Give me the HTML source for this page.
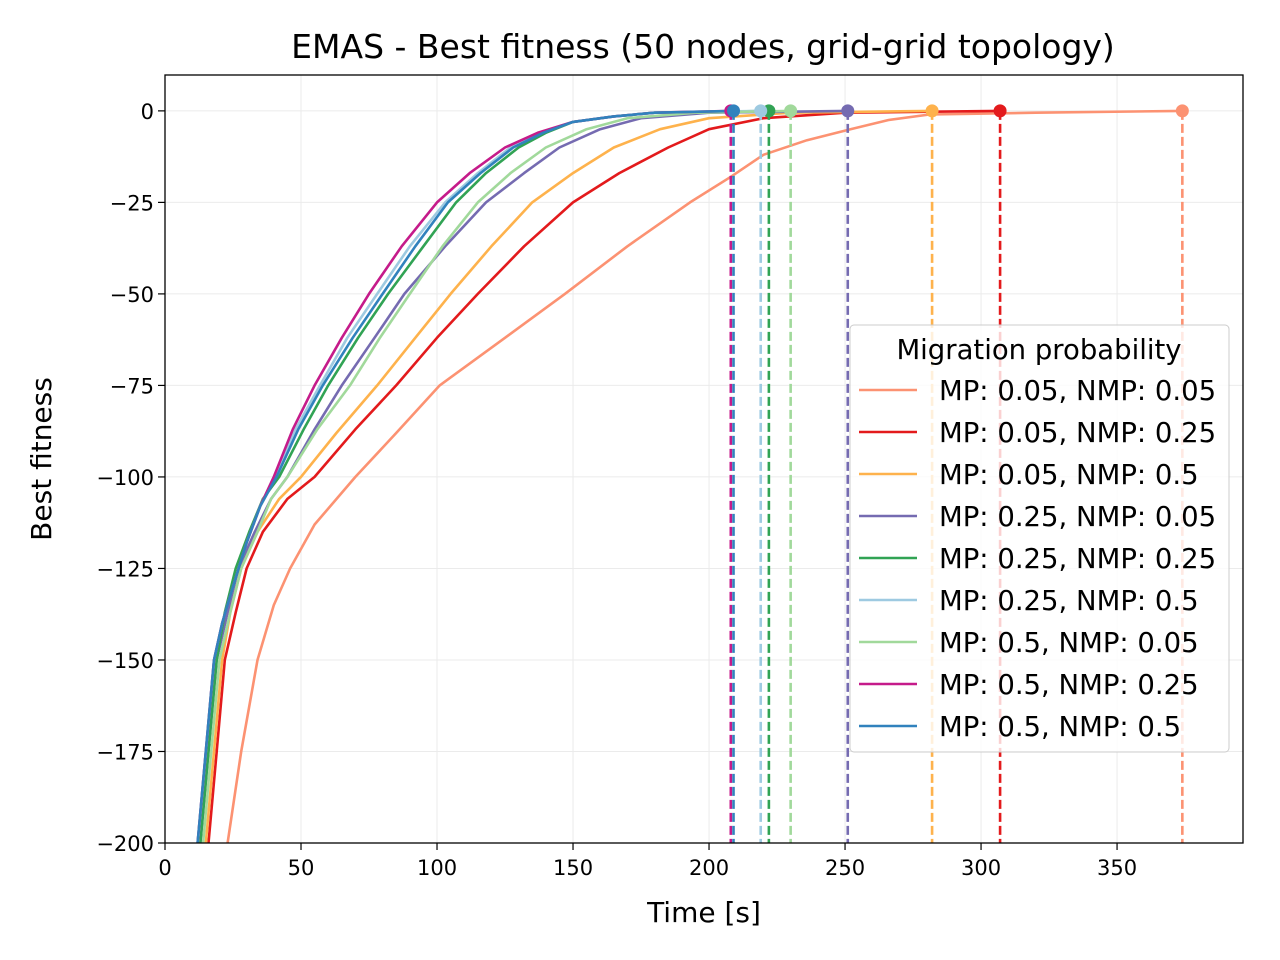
<!DOCTYPE html>
<html><head><meta charset="utf-8">
<style>
html,body{margin:0;padding:0;background:#fff;}
svg{display:block;font-family:"DejaVu Sans","Liberation Sans",sans-serif;}
</style></head>
<body>
<svg id="chart" width="1280" height="960" viewBox="0 0 1280 960">
<defs><clipPath id="clip"><rect x="165" y="75" width="1078" height="768"/></clipPath></defs>
<text x="703" y="58" text-anchor="middle" font-size="33" fill="#000">EMAS - Best fitness (50 nodes, grid-grid topology)</text>
<g id="grid"></g>
<g id="series" clip-path="url(#clip)"></g>
<rect x="165" y="75" width="1078" height="768" fill="none" stroke="#000" stroke-width="1.3"/>
<g id="axes"></g>
<text x="704" y="922" text-anchor="middle" font-size="28">Time [s]</text>
<text transform="translate(51,459) rotate(-90)" text-anchor="middle" font-size="28">Best fitness</text>
<g id="legend"></g>
</svg>
<script>
const seriesNames = ["MP: 0.05, NMP: 0.05","MP: 0.05, NMP: 0.25","MP: 0.05, NMP: 0.5","MP: 0.25, NMP: 0.05","MP: 0.25, NMP: 0.25","MP: 0.25, NMP: 0.5","MP: 0.5, NMP: 0.05","MP: 0.5, NMP: 0.25","MP: 0.5, NMP: 0.5"];
const seriesColors = ["#fc9272","#e31a1c","#feb24c","#756bb1","#31a354","#9ecae1","#a1d99b","#c51b8a","#3182bd"];
const endTimes = [374,307,282,251,222,219,230,208,209];
const s1t=[23,28,34,40,46,55,70,85,101,125,147,170,193,208,220,236,252,266,281,320,374], s1v=[-200,-175,-150,-135,-125,-113,-100,-88,-75,-62,-50,-37,-25,-18,-12,-8,-5,-2.5,-1,-0.5,0];
const s2t=[16,19,22,26,30,36,45,55,70,85,100,115,132,150,167,185,200,220,250,307], s2v=[-200,-175,-150,-137,-125,-115,-106,-100,-87,-75,-62,-50,-37,-25,-17,-10,-5,-2,-0.5,0];
const s3t=[15,18,21,24,28,34,42,50,63,78,92,105,120,135,150,165,182,200,230,282], s3v=[-200,-175,-150,-137,-125,-115,-106,-100,-88,-75,-62,-50,-37,-25,-17,-10,-5,-2,-0.5,0];
const s4t=[13,16,19,23,27,33,39,45,55,65,77,88,103,118,132,145,160,175,200,251], s4v=[-200,-175,-150,-137,-125,-115,-106,-100,-87,-75,-62,-50,-37,-25,-17,-10,-5,-2,-0.5,0];
const s5t=[13,16,19,22,26,31,36,42,51,60,71,82,95,107,118,130,140,150,165,180,222], s5v=[-200,-175,-150,-137,-125,-115,-106,-100,-87,-75,-62,-50,-37,-25,-17,-10,-6,-3,-1.5,-0.5,0];
const s6t=[12,15,18,21,25,30,35,40,48,57,67,78,90,103,115,127,138,150,165,180,219], s6v=[-200,-175,-150,-140,-130,-118,-108,-100,-87,-75,-62,-50,-37,-25,-17,-10,-6,-3,-1.5,-0.5,0];
const s7t=[14,17,20,24,28,34,39,45,56,68,79,90,102,115,127,140,155,170,195,230], s7v=[-200,-175,-150,-137,-125,-115,-106,-100,-87,-75,-62,-50,-37,-25,-17,-10,-5,-2,-0.5,0];
const s8t=[12,15,18,21,25,30,35,40,47,55,65,75,87,100,112,125,137,150,165,180,208], s8v=[-200,-175,-150,-140,-130,-118,-108,-100,-87,-75,-62,-50,-37,-25,-17,-10,-6,-3,-1.5,-0.5,0];
const s9t=[12,15,18,21,25,30,35,41,49,58,69,80,92,104,116,128,139,150,165,180,209], s9v=[-200,-175,-150,-140,-130,-118,-108,-100,-87,-75,-62,-50,-37,-25,-17,-10,-6,-3,-1.5,-0.5,0];
const seriesT=[s1t,s2t,s3t,s4t,s5t,s6t,s7t,s8t,s9t];
const seriesV=[s1v,s2v,s3v,s4v,s5v,s6v,s7v,s8v,s9v];
const xTicks=[0,50,100,150,200,250,300,350];
const yTicks=[0,-25,-50,-75,-100,-125,-150,-175,-200];
const yTickLabels=["0","\u221225","\u221250","\u221275","\u2212100","\u2212125","\u2212150","\u2212175","\u2212200"];

const NS="http://www.w3.org/2000/svg";
const X0=165,X1=1243,Y0=75,Y1=843,xMin=0,xMax=396.3,yMin=-200,yMax=9.8;
function sx(v){return X0+(v-xMin)/(xMax-xMin)*(X1-X0);}
function sy(v){return Y1-(v-yMin)/(yMax-yMin)*(Y1-Y0);}
function mk(tag,attrs,parent){const e=document.createElementNS(NS,tag);for(const k in attrs)e.setAttribute(k,attrs[k]);parent.appendChild(e);return e;}
const grid=document.getElementById('grid'),axes=document.getElementById('axes'),ser=document.getElementById('series'),leg=document.getElementById('legend');
xTicks.forEach(t=>{
  const g=mk('line',{x1:sx(t),x2:sx(t),y1:Y0,y2:Y1,stroke:'#ebebeb','stroke-width':1},grid);
  
  
  const tk=mk('line',{x1:sx(t),x2:sx(t),y1:Y1,y2:Y1+7,stroke:'#000','stroke-width':1.2},axes);
  
  
  const tx=mk('text',{x:sx(t),y:Y1+32,'text-anchor':'middle','font-size':21},axes);tx.textContent=t;
  
  
});
yTicks.forEach((t,i)=>{
  const g=mk('line',{x1:X0,x2:X1,y1:sy(t),y2:sy(t),stroke:'#ebebeb','stroke-width':1},grid);
  
  
  const tk=mk('line',{x1:X0-7,x2:X0,y1:sy(t),y2:sy(t),stroke:'#000','stroke-width':1.2},axes);
  
  
  const tx=mk('text',{x:X0-11,y:sy(t)+8,'text-anchor':'end','font-size':21},axes);tx.textContent=yTickLabels[i];
  
  
});
seriesT.forEach((ts,i)=>{
  const vs=seriesV[i];
  const d=ts.map((t,j)=>(j?'L':'M')+sx(t).toFixed(1)+','+sy(vs[j]).toFixed(1)).join(' ');
  const p=mk('path',{d:d,fill:'none',stroke:seriesColors[i],'stroke-width':2.6,'stroke-linejoin':'round'},ser);
  
  
});
seriesT.forEach((ts,i)=>{
  const e=endTimes[i];
  const l=mk('line',{x1:sx(e),x2:sx(e),y1:sy(0),y2:Y1,stroke:seriesColors[i],'stroke-width':2.6,'stroke-dasharray':'9,4'},ser);
  
  
  const c=mk('circle',{cx:sx(e),cy:sy(0),r:6.5,fill:seriesColors[i]},ser);
  
  
});
const lb=mk('rect',{x:850,y:325,width:379,height:427,rx:4,fill:'#fff','fill-opacity':0.8,stroke:'#ccc','stroke-width':1},leg);


const lt=mk('text',{x:1039,y:359,'text-anchor':'middle','font-size':27.5},leg);lt.textContent='Migration probability';


seriesNames.forEach((n,i)=>{
  const y=390+i*42;
  const l=mk('line',{x1:859,x2:917,y1:y,y2:y,stroke:seriesColors[i],'stroke-width':2.6},leg);
  
  
  const t=mk('text',{x:939,y:y+10,'font-size':27.5},leg);t.textContent=n;
  
  
});
</script>
</body></html>
